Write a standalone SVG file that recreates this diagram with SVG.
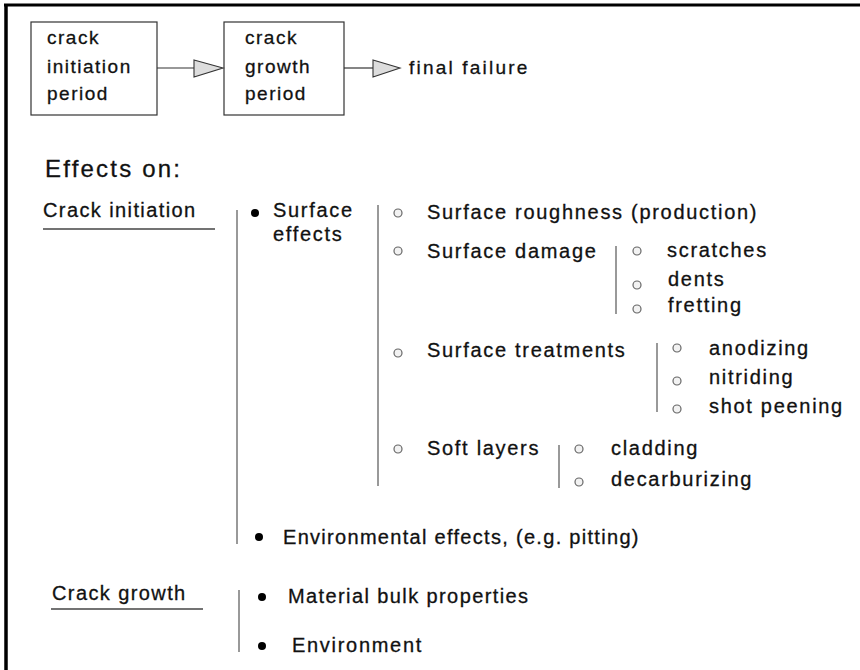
<svg xmlns="http://www.w3.org/2000/svg" width="860" height="670" viewBox="0 0 860 670">
<style>
text{font-family:"Liberation Sans",Arial,Helvetica,sans-serif;fill:#111;stroke:#111;stroke-width:0.3;font-size:20px;letter-spacing:1.7px}
.box{fill:#fff;stroke:#333;stroke-width:1.2}
.bt{font-size:19px;letter-spacing:1.5px}
.ff{font-size:19px;letter-spacing:2.2px}
.h{font-size:24px;letter-spacing:2.2px}
.cat{letter-spacing:1.4px}
.vl{stroke:#555;stroke-width:1.2;fill:none}
.ul{stroke:#444;stroke-width:1.3;fill:none}
.dot{fill:#000}
.ring{fill:#f2f2f2;stroke:#666;stroke-width:1.2}
.conn{stroke:#333;stroke-width:1.2;fill:none}
.head{fill:#ddd;stroke:#333;stroke-width:1.1}
</style>
<rect width="860" height="670" fill="#fff"/>
<g id="frame">
<line x1="4" y1="5" x2="860" y2="5" stroke="#000" stroke-width="3"/>
<line x1="6" y1="4" x2="6" y2="670" stroke="#000" stroke-width="3.5"/>
</g>
<g id="box-initiation">
<rect class="box" x="31" y="22" width="126" height="93"/>
<text class="bt" x="47" y="44">crack</text>
<text class="bt" x="47" y="73">initiation</text>
<text class="bt" x="47" y="100">period</text>
</g>
<g id="box-growth">
<rect class="box" x="224" y="22" width="120" height="93"/>
<text class="bt" x="245" y="44">crack</text>
<text class="bt" x="245" y="73">growth</text>
<text class="bt" x="245" y="100">period</text>
</g>
<g id="final-failure">
<text class="ff" x="409" y="74">final failure</text>
</g>
<g id="connectors">
<line class="conn" x1="157" y1="68" x2="194" y2="68"/>
<polygon class="head" points="194,60 223,68 194,77"/>
<line class="conn" x1="344" y1="68" x2="373" y2="68"/>
<polygon class="head" points="373,60 400,68 373,77"/>
</g>
<g id="effects-title">
<text class="h" x="45" y="177">Effects on:</text>
</g>
<g id="crack-initiation">
<text class="cat" x="43" y="217">Crack initiation</text>
<line class="ul" x1="43" y1="229" x2="215" y2="229"/>
<line class="vl" x1="237" y1="210" x2="237" y2="544"/>
</g>
<g id="surface-effects">
<circle class="dot" cx="255" cy="213" r="4"/>
<text x="273" y="217">Surface</text>
<text x="273" y="241">effects</text>
<line class="vl" x1="378" y1="205" x2="378" y2="486"/>
</g>
<g id="surface-roughness">
<circle class="ring" cx="398" cy="213" r="4"/>
<text x="427" y="219">Surface roughness (production)</text>
</g>
<g id="surface-damage">
<circle class="ring" cx="398" cy="251" r="4"/>
<text x="427" y="258">Surface damage</text>
<line class="vl" x1="616" y1="246" x2="616" y2="314"/>
<circle class="ring" cx="637" cy="251" r="4"/>
<text x="667" y="257">scratches</text>
<circle class="ring" cx="637" cy="285" r="4"/>
<text x="668" y="286">dents</text>
<circle class="ring" cx="637" cy="309" r="4"/>
<text x="668" y="312">fretting</text>
</g>
<g id="surface-treatments">
<circle class="ring" cx="398" cy="353" r="4"/>
<text x="427" y="357">Surface treatments</text>
<line class="vl" x1="657" y1="343" x2="657" y2="412"/>
<circle class="ring" cx="677" cy="348" r="4"/>
<text x="709" y="355">anodizing</text>
<circle class="ring" cx="677" cy="381" r="4"/>
<text x="709" y="384">nitriding</text>
<circle class="ring" cx="677" cy="409" r="4"/>
<text x="709" y="413">shot peening</text>
</g>
<g id="soft-layers">
<circle class="ring" cx="398" cy="449" r="4"/>
<text x="427" y="455">Soft layers</text>
<line class="vl" x1="559" y1="445" x2="559" y2="488"/>
<circle class="ring" cx="579" cy="449" r="4"/>
<text x="611" y="455">cladding</text>
<circle class="ring" cx="579" cy="482" r="4"/>
<text x="611" y="486">decarburizing</text>
</g>
<g id="environmental-effects">
<circle class="dot" cx="259" cy="537" r="4"/>
<text x="283" y="544" style="letter-spacing:1.3px">Environmental effects, (e.g. pitting)</text>
</g>
<g id="crack-growth">
<text class="cat" x="52" y="600">Crack growth</text>
<line class="ul" x1="51" y1="609" x2="203" y2="609"/>
<line class="vl" x1="239" y1="590" x2="239" y2="652"/>
</g>
<g id="material-bulk">
<circle class="dot" cx="262" cy="597" r="4"/>
<text x="288" y="603" style="letter-spacing:1.4px">Material bulk properties</text>
</g>
<g id="environment">
<circle class="dot" cx="262" cy="646" r="4"/>
<text x="292" y="652">Environment</text>
</g>
</svg>
